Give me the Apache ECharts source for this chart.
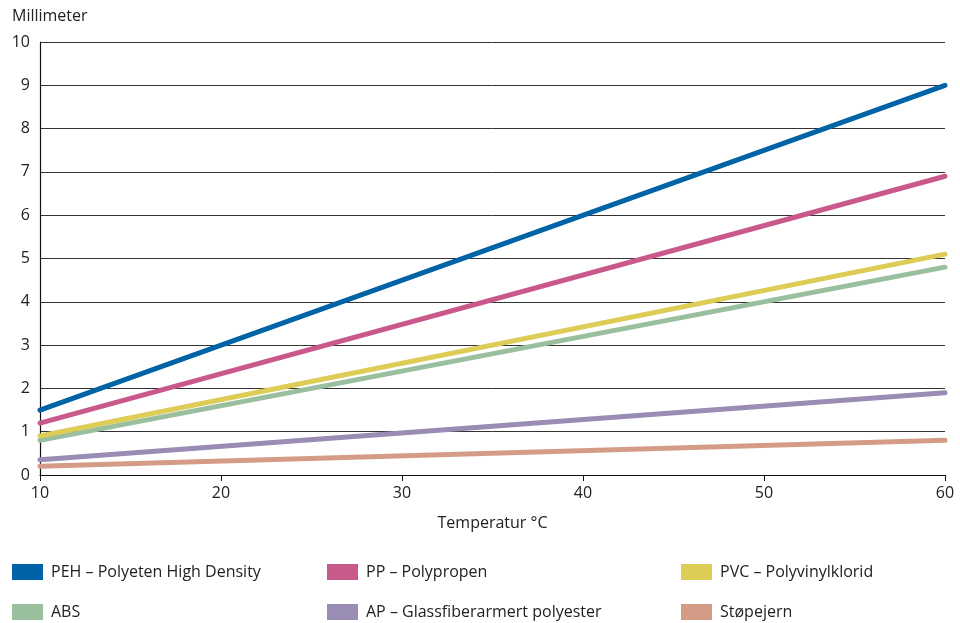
<!DOCTYPE html>
<html><head><meta charset="utf-8">
<script src="https://cdn.jsdelivr.net/npm/echarts@6/dist/echarts.min.js"></script>
<style>html,body{margin:0;padding:0;background:#fff}#c{width:960px;height:623px}</style>
</head><body><div id="c"></div>
<script>
const xValues = [10, 60];
const seriesNames = ['PEH – Polyeten High Density','PP – Polypropen','PVC – Polyvinylklorid','ABS','AP – Glassfiberarmert polyester','Støpejern'];
const pehValues = [1.5, 9.0];
const ppValues = [1.2, 6.9];
const pvcValues = [0.9, 5.1];
const absValues = [0.8, 4.8];
const apValues = [0.35, 1.9];
const stoValues = [0.2, 0.8];
const colors = ['#0063A6','#C9588B','#DDCC55','#99BF9E','#9A8DB5','#D49C86'];
const allValues = [pehValues, ppValues, pvcValues, absValues, apValues, stoValues];
const font = '"Open Sans", "Noto Sans", sans-serif';

const series = allValues.map((vals, i) => ({
  name: seriesNames[i],
  type: 'line',
  data: xValues.map((x, j) => [x, vals[j]]),
  symbol: 'none',
  lineStyle: { width: 5, color: colors[i], cap: 'round' },
  itemStyle: { color: colors[i] },
  z: 10 - i
}));

const legendPos = [[12,564],[327,564],[681,564],[12,604],[327,604],[681,604]];
const legends = seriesNames.map((n, i) => ({
  data: [n], left: legendPos[i][0], top: legendPos[i][1],
  icon: 'rect', itemWidth: 31, itemHeight: 16, itemGap: 10,
  textStyle: { fontFamily: font, fontSize: 16, color: '#222', padding: [0,0,0,3] },
  selectedMode: false, padding: 0
}));

const chart = echarts.init(document.getElementById('c'));
chart.setOption({
  animation: false,
  grid: { left: 40, right: 15, top: 42, bottom: 148 },
  legend: legends,
  xAxis: {
    type: 'value', min: 10, max: 60, interval: 10,
    name: 'Temperatur °C', nameLocation: 'middle', nameGap: 40,
    nameTextStyle: { fontFamily: font, fontSize: 16, color: '#222' },
    axisLine: { lineStyle: { color: '#111', width: 1.2 } },
    axisTick: { show: true, length: 6, lineStyle: { color: '#111' } },
    axisLabel: { fontFamily: font, fontSize: 16, color: '#222', margin: 10 },
    splitLine: { show: false }
  },
  yAxis: {
    type: 'value', min: 0, max: 10, interval: 1,
    name: 'Millimeter', nameLocation: 'end', nameGap: 18,
    nameTextStyle: { fontFamily: font, fontSize: 16, color: '#222', align: 'left', padding: [0,0,0,-28] },
    axisLine: { show: true, lineStyle: { color: '#111', width: 1.2 } },
    axisTick: { show: false },
    axisLabel: { fontFamily: font, fontSize: 16, color: '#222', margin: 10 },
    splitLine: { lineStyle: { color: '#333', width: 1 } }
  },
  series: series
});
</script></body></html>
